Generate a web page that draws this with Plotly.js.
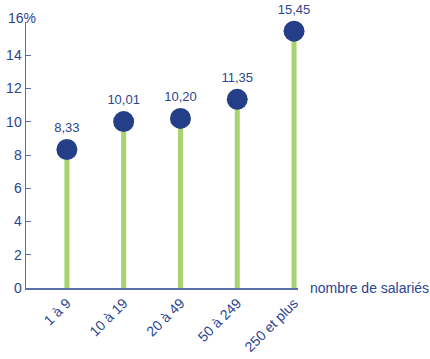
<!DOCTYPE html>
<html><head><meta charset="utf-8">
<script src="https://cdn.plot.ly/plotly-3.0.1.min.js"></script>
<style>html,body{margin:0;padding:0;background:#fff}#c{width:430px;height:359px}</style>
</head><body><div id="c"></div>
<script>
var categories = ["1 à 9", "10 à 19", "20 à 49", "50 à 249", "250 et plus"];
var values = [8.33, 10.01, 10.20, 11.35, 15.45];
var yTicks = [0, 2, 4, 6, 8, 10, 12, 14];
var yTopLabel = "16%";
var xAxisLabel = "nombre de salariés";

var navy = "#243f88", green = "#a8d46f", txt = "#2b4590";
var idx = categories.map(function(_, i){ return i; });
var sx = [], sy = [];
idx.forEach(function(i){ sx.push(i, i, null); sy.push(0, values[i], null); });

var traces = [
  {x: sx, y: sy, mode: "lines", line: {color: green, width: 5}, hoverinfo: "skip", cliponaxis: false},
  {x: idx, y: values, mode: "markers+text", marker: {size: 21, color: navy},
   text: values.map(function(v){ return v.toFixed(2).replace(".", ","); }),
   textposition: "top center", textfont: {size: 13, color: txt, family: "Liberation Sans, Arial"},
   cliponaxis: false}
];
var layout = {
  width: 430, height: 359,
  margin: {l: 26, r: 132, t: 22, b: 71},
  showlegend: false,
  paper_bgcolor: "#fff", plot_bgcolor: "#fff",
  font: {family: "Liberation Sans, Arial", color: txt, size: 14},
  xaxis: {range: [-0.72, 4.07], tickvals: idx, ticktext: categories, tickangle: -45,
          showgrid: false, zeroline: false, showline: true, linecolor: "#5a6fa8", linewidth: 1.5,
          ticks: "", tickfont: {size: 14, color: txt}},
  yaxis: {range: [0, 16], tickvals: yTicks, ticktext: yTicks.map(String), showgrid: false, zeroline: false,
          showline: true, linecolor: "#5a6fa8", linewidth: 1.5, ticks: "inside", ticklen: 5,
          tickcolor: "#5a6fa8", tickfont: {size: 14, color: txt}},
  annotations: [
    {xref: "paper", yref: "y", x: 0, y: 16, text: yTopLabel, showarrow: false, xanchor: "center", yanchor: "bottom", yshift: -6, xshift: -4, font: {size: 14, color: txt}},
    {xref: "paper", yref: "y", x: 1, y: 0, text: xAxisLabel, showarrow: false, xanchor: "left", xshift: 10, yanchor: "middle", font: {size: 14, color: txt}}
  ]
};
Plotly.newPlot("c", traces, layout, {displayModeBar: false, staticPlot: true});
</script></body></html>
